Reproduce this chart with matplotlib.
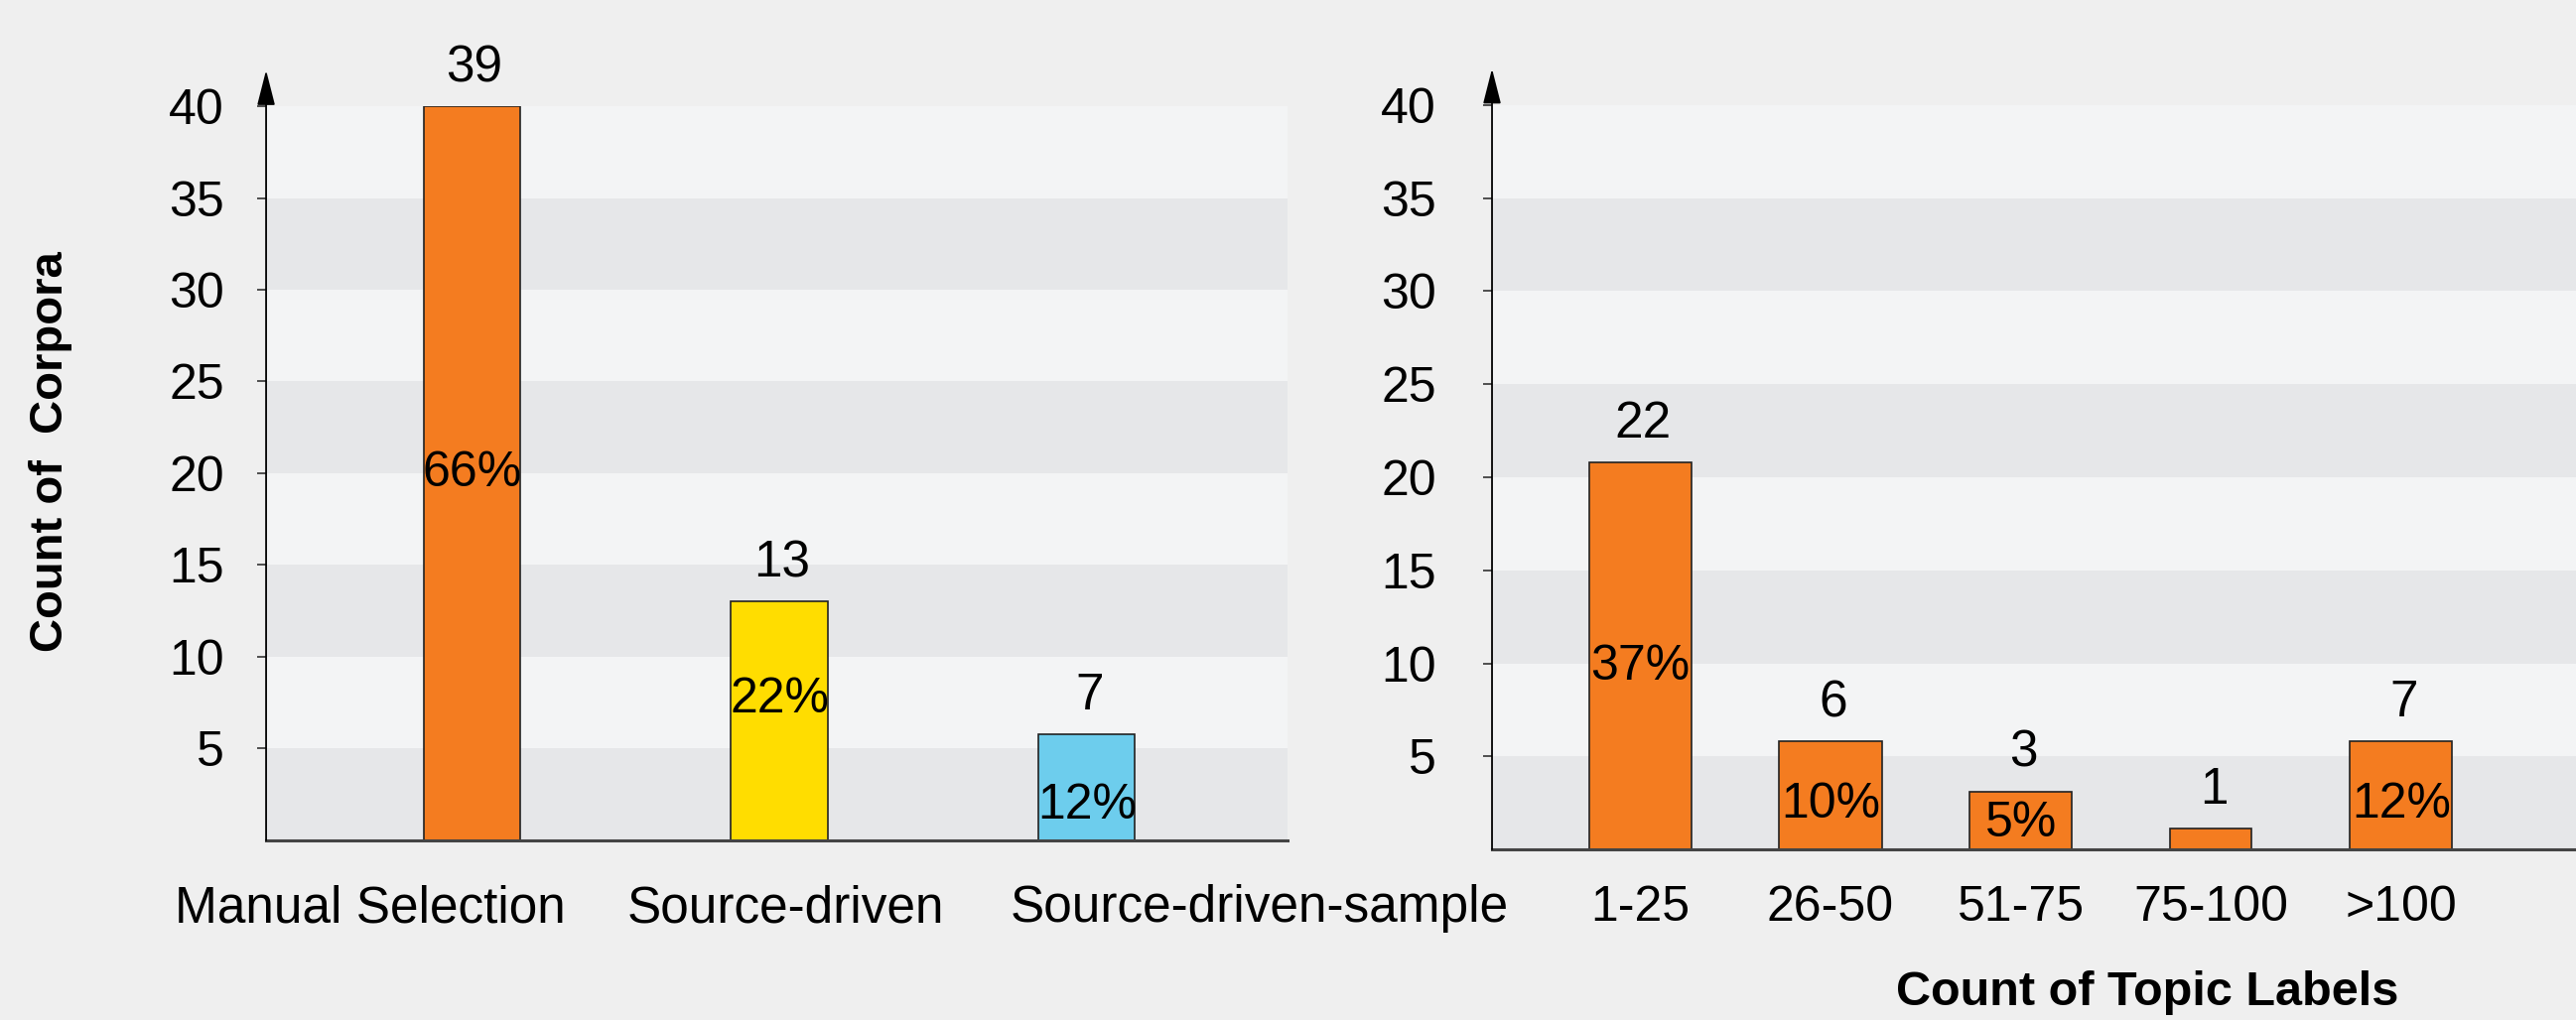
import numpy as np
import matplotlib
matplotlib.use("Agg")
import matplotlib.pyplot as plt

plt.rcParams['font.family'] = ['Liberation Sans', 'DejaVu Sans']

# left panel: corpus selection
sel_cats = ['Manual Selection', 'Source-driven', 'Source-driven-sample']
sel_counts = [39, 13, 7]
sel_heights = [40, 13, 5.8]          # bar heights as drawn
sel_pct = ['66%', '22%', '12%']
sel_pct_y = [20, 7.7, 1.9]
sel_colors = ['#F47C20', '#FFDD00', '#6DCDED']

# right panel: number of topic labels
lab_cats = ['1-25', '26-50', '51-75', '75-100', '>100']
lab_counts = [22, 6, 3, 1, 7]
lab_heights = [20.8, 5.8, 3.1, 1.1, 5.8]
lab_pct = ['37%', '10%', '5%', '', '12%']
lab_pct_y = [9.8, 2.4, 1.4, 0, 2.4]

yticks = [5, 10, 15, 20, 25, 30, 35, 40]

BG = '#EFEFEF'
BAND_DARK = '#E6E7E9'
BAND_LIGHT = '#F3F4F5'

fig = plt.figure(figsize=(25.95, 10.28), dpi=100, facecolor=BG)
ax1 = fig.add_axes([0.1033, 0.1761, 0.3965, 0.7198])
ax2 = fig.add_axes([0.5792, 0.1673, 0.4208, 0.7296])


def style(ax, pad):
    ax.set_facecolor(BG)
    for lo in range(0, 40, 5):
        ax.axhspan(lo, lo + 5, color=BAND_DARK if (lo // 5) % 2 == 0 else BAND_LIGHT,
                   lw=0, zorder=0)
    ax.set_ylim(0, 40)
    ax.set_yticks(yticks)
    ax.tick_params(axis='y', labelsize=36, length=6.5, width=1.2, color='#333333', pad=pad)
    ax.tick_params(axis='x', length=0)
    for s in ['top', 'right', 'left']:
        ax.spines[s].set_visible(False)
    ax.spines['bottom'].set_color('#444444')
    ax.spines['bottom'].set_linewidth(2.2)
    ax.annotate('', xy=(0, 1.049), xytext=(0, 0), xycoords='axes fraction',
                arrowprops=dict(arrowstyle='-|>,head_length=1.1,head_width=0.28',
                                mutation_scale=20, color='black', lw=1.3,
                                shrinkA=0, shrinkB=0), annotation_clip=False)


def labels(ax, x, heights, counts, pcts, pct_y):
    for xi, h, c, p, py in zip(x, heights, counts, pcts, pct_y):
        ax.annotate(str(c), (xi, h), xytext=(2, 18), textcoords='offset points',
                    ha='center', va='baseline', fontsize=37, annotation_clip=False)
        if p:
            ax.text(xi, py, p, ha='center', va='center', fontsize=36)


# left
x1 = np.arange(len(sel_cats))
style(ax1, 24)
ax1.bar(x1, sel_heights, width=0.313, color=sel_colors, edgecolor='#222222', lw=1.2, zorder=2)
labels(ax1, x1, sel_heights, sel_counts, sel_pct, sel_pct_y)
ax1.set_xlim(-0.668, 2.652)
ax1.set_xticks([-0.33, 1.02, 2.56])
ax1.set_xticklabels(sel_cats, fontsize=37)
ax1.tick_params(axis='x', pad=32)
ax1.set_ylabel('Count of  Corpora', fontsize=34, fontweight='bold')
ax1.yaxis.set_label_coords(-0.19, 0.53)

# right
x2 = np.arange(len(lab_cats))
style(ax2, 34)
ax2.bar(x2, lab_heights, width=[0.54, 0.54, 0.54, 0.43, 0.54], color='#F47C20',
        edgecolor='#222222', lw=1.2, zorder=2)
labels(ax2, x2, lab_heights, lab_counts, lab_pct, lab_pct_y)
ax2.set_xlim(-0.78, 4.92)
ax2.set_xticks(x2)
ax2.set_xticklabels(lab_cats, fontsize=36)
ax2.tick_params(axis='x', pad=26)
ax2.text(0.605, -0.193, 'Count of Topic Labels', transform=ax2.transAxes,
         ha='center', va='center', fontsize=35, fontweight='bold')

fig.savefig('out.png', dpi=100, facecolor=BG)
